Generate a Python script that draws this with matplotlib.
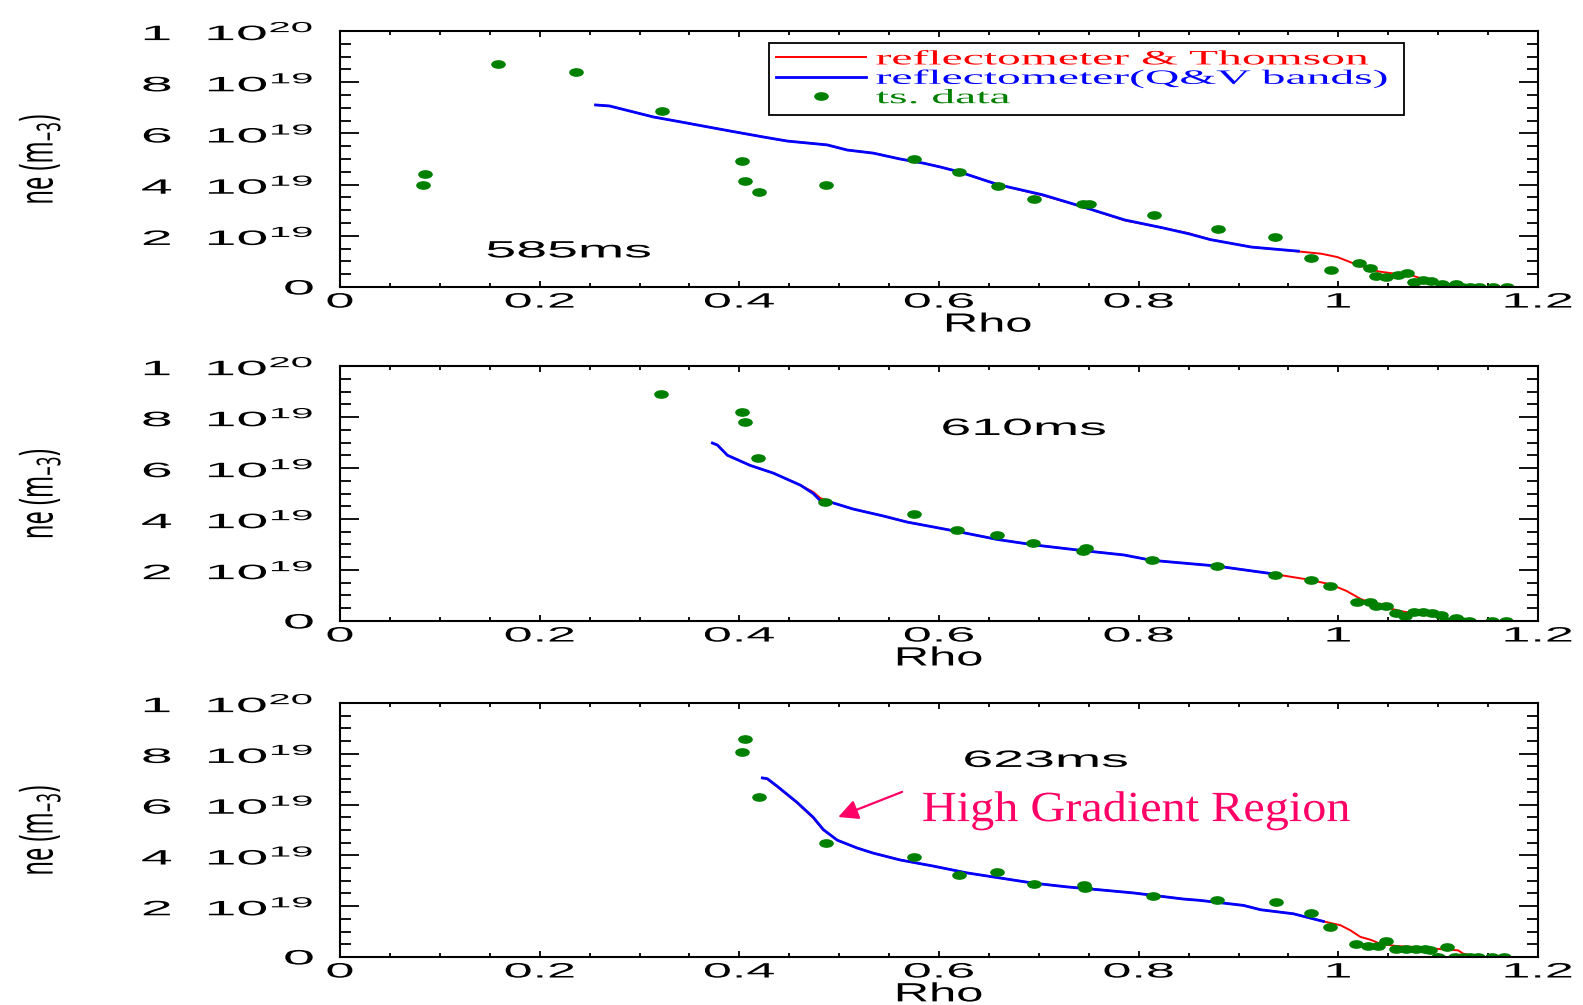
import numpy as np
import matplotlib.pyplot as plt
from matplotlib.path import Path
from matplotlib.patheffects import AbstractPathEffect
from matplotlib.transforms import Affine2D
from matplotlib.ticker import MultipleLocator

# ---------------- data (ne in units of 1e19 m^-3) ----------------
# 585 ms
ts1_rho = [0.083, 0.085, 0.158, 0.236, 0.323, 0.403, 0.406, 0.420, 0.487, 0.575,
           0.620, 0.659, 0.695, 0.744, 0.750, 0.815, 0.879, 0.937, 0.973, 0.993,
           1.021, 1.032, 1.038, 1.048, 1.060, 1.069, 1.076, 1.085, 1.093, 1.104,
           1.110, 1.118, 1.124, 1.132, 1.141, 1.155, 1.169]
ts1_ne = [4.0, 4.4, 8.7, 8.4, 6.88, 4.92, 4.14, 3.71, 3.98, 5.0,
          4.48, 3.93, 3.44, 3.26, 3.26, 2.81, 2.27, 1.97, 1.15, 0.65,
          0.92, 0.74, 0.42, 0.39, 0.48, 0.53, 0.21, 0.29, 0.22, 0.13,
          0.0, 0.13, 0.0, 0.0, 0.0, 0.0, 0.0]
rt1_rho = [0.256, 0.270, 0.314, 0.341, 0.391, 0.424, 0.448, 0.488, 0.508, 0.534,
           0.561, 0.584, 0.601, 0.620, 0.659, 0.704, 0.745, 0.786, 0.823, 0.850,
           0.872, 0.913, 0.960, 0.983, 0.999, 1.016, 1.040, 1.057, 1.073, 1.089,
           1.106, 1.112]
rt1_ne = [7.11, 7.07, 6.64, 6.45, 6.09, 5.86, 5.70, 5.55, 5.35, 5.23,
          5.00, 4.84, 4.69, 4.50, 4.00, 3.58, 3.12, 2.60, 2.32, 2.10,
          1.85, 1.56, 1.39, 1.30, 1.17, 0.91, 0.61, 0.52, 0.46, 0.26,
          0.10, 0.0]
qv1_rho = [0.256, 0.270, 0.314, 0.341, 0.391, 0.424, 0.448, 0.488, 0.508, 0.534,
           0.561, 0.584, 0.601, 0.620, 0.659, 0.704, 0.745, 0.786, 0.823, 0.850,
           0.872, 0.913, 0.960]
qv1_ne = [7.11, 7.07, 6.64, 6.45, 6.09, 5.86, 5.70, 5.55, 5.35, 5.23,
          5.00, 4.84, 4.69, 4.50, 4.00, 3.60, 3.12, 2.62, 2.32, 2.08,
          1.85, 1.56, 1.40]

# 610 ms
ts2_rho = [0.322, 0.403, 0.406, 0.419, 0.486, 0.575, 0.618, 0.658, 0.694, 0.744,
           0.747, 0.813, 0.878, 0.937, 0.973, 0.992, 1.019, 1.032, 1.038, 1.048,
           1.058, 1.067, 1.076, 1.085, 1.094, 1.103, 1.108, 1.118, 1.123, 1.131,
           1.154, 1.168]
ts2_ne = [8.9, 8.2, 7.8, 6.4, 4.67, 4.2, 3.55, 3.37, 3.05, 2.75,
          2.87, 2.4, 2.15, 1.82, 1.62, 1.38, 0.76, 0.76, 0.59, 0.59,
          0.31, 0.2, 0.37, 0.37, 0.3, 0.24, 0.0, 0.13, 0.0, 0.0,
          0.0, 0.0]
rt2_rho = [0.373, 0.378, 0.388, 0.411, 0.434, 0.461, 0.474, 0.481, 0.494, 0.514,
           0.544, 0.568, 0.594, 0.621, 0.658, 0.696, 0.742, 0.785, 0.813, 0.877,
           0.937, 0.969, 0.992, 1.008, 1.023, 1.042, 1.062, 1.077, 1.100, 1.112]
rt2_ne = [6.98, 6.90, 6.50, 6.10, 5.80, 5.33, 5.06, 4.82, 4.63, 4.39,
          4.12, 3.88, 3.69, 3.49, 3.20, 2.98, 2.77, 2.59, 2.38, 2.16,
          1.83, 1.63, 1.44, 1.18, 0.85, 0.59, 0.39, 0.29, 0.20, 0.03]
qv2_rho = [0.373, 0.378, 0.388, 0.411, 0.434, 0.461, 0.474, 0.481, 0.494, 0.514,
           0.544, 0.568, 0.594, 0.621, 0.658, 0.696, 0.742, 0.785, 0.813, 0.877,
           0.940]
qv2_ne = [6.98, 6.90, 6.50, 6.10, 5.80, 5.33, 5.00, 4.72, 4.63, 4.39,
          4.12, 3.88, 3.69, 3.49, 3.20, 2.98, 2.77, 2.59, 2.38, 2.16,
          1.82]

# 623 ms
ts3_rho = [0.406, 0.403, 0.420, 0.487, 0.575, 0.620, 0.658, 0.695, 0.745, 0.746,
           0.814, 0.878, 0.938, 0.973, 0.992, 1.018, 1.030, 1.040, 1.048, 1.058,
           1.068, 1.078, 1.087, 1.092, 1.100, 1.109, 1.117, 1.125, 1.132, 1.140,
           1.154, 1.166]
ts3_ne = [8.58, 8.07, 6.3, 4.49, 3.94, 3.23, 3.35, 2.87, 2.83, 2.72,
          2.4, 2.23, 2.16, 1.73, 1.18, 0.5, 0.43, 0.43, 0.62, 0.33,
          0.33, 0.33, 0.33, 0.26, 0.0, 0.38, 0.0, 0.0, 0.0, 0.0,
          0.0, 0.0]
rt3_rho = [0.423, 0.428, 0.438, 0.458, 0.474, 0.484, 0.498, 0.518, 0.534, 0.561,
           0.594, 0.628, 0.661, 0.694, 0.728, 0.762, 0.795, 0.845, 0.861, 0.905,
           0.922, 0.955, 0.985, 1.002, 1.012, 1.022, 1.032, 1.042, 1.058, 1.078,
           1.095, 1.120, 1.125, 1.130]
rt3_ne = [7.05, 7.00, 6.70, 6.06, 5.47, 5.00, 4.60, 4.29, 4.09, 3.82,
          3.58, 3.31, 3.11, 2.91, 2.76, 2.64, 2.52, 2.28, 2.23, 2.03,
          1.86, 1.70, 1.40, 1.25, 1.05, 0.79, 0.68, 0.52, 0.43, 0.39,
          0.33, 0.26, 0.13, 0.09]
qv3_rho = [0.423, 0.428, 0.438, 0.458, 0.474, 0.484, 0.498, 0.518, 0.534, 0.561,
           0.594, 0.628, 0.661, 0.694, 0.728, 0.762, 0.795, 0.845, 0.861, 0.905,
           0.922, 0.955, 0.985]
qv3_ne = [7.05, 7.02, 6.72, 6.08, 5.50, 5.02, 4.60, 4.29, 4.09, 3.82,
          3.58, 3.31, 3.11, 2.91, 2.76, 2.64, 2.52, 2.28, 2.23, 2.03,
          1.86, 1.70, 1.40]

times = ['585ms', '610ms', '623ms']
xticks = [0, 0.2, 0.4, 0.6, 0.8, 1.0, 1.2]
xticklabels = ['0', '0.2', '0.4', '0.6', '0.8', '1', '1.2']
yticks = [0, 2, 4, 6, 8, 10]
yticklabels = ['0', '2  10$^{\\mathregular{19}}$', '4  10$^{\\mathregular{19}}$',
               '6  10$^{\\mathregular{19}}$', '8  10$^{\\mathregular{19}}$',
               '1  10$^{\\mathregular{20}}$']


class Stretch(AbstractPathEffect):
    # the IDL output is stretched sideways, so widen the text the same way
    def __init__(self, sx, anchor='center'):
        super().__init__()
        self.sx = sx
        self.anchor = anchor

    def draw_path(self, renderer, gc, tpath, affine, rgbFace=None):
        bb = tpath.get_extents(affine)
        x0 = {'left': bb.x0, 'right': bb.x1, 'center': 0.5 * (bb.x0 + bb.x1)}[self.anchor]
        t = affine + Affine2D().translate(-x0, 0).scale(self.sx, 1).translate(x0, 0)
        renderer.draw_path(gc, tpath, t, rgbFace)


ell = Path.unit_circle().transformed(Affine2D().scale(1.0, 0.55))
sans = 'Liberation Sans'

fig = plt.figure(figsize=(15.83, 10.05), dpi=100)
rects = [[0.2148, 0.7144, 0.7568, 0.2548],
         [0.2148, 0.3821, 0.7568, 0.2537],
         [0.2148, 0.0478, 0.7568, 0.2527]]
series = [(ts1_rho, ts1_ne, rt1_rho, rt1_ne, qv1_rho, qv1_ne),
          (ts2_rho, ts2_ne, rt2_rho, rt2_ne, qv2_rho, qv2_ne),
          (ts3_rho, ts3_ne, rt3_rho, rt3_ne, qv3_rho, qv3_ne)]
tpos = [(0.229, 1.39), (0.685, 7.53), (0.707, 7.72)]
rho_x = [0.541, 0.5, 0.5]

for i in range(3):
    ax = fig.add_axes(rects[i])
    tr, tn, rr, rn, qr, qn = series[i]
    ax.plot(rr, rn, color='red', lw=1.4, label='reflectometer & Thomson')
    ax.plot(qr, qn, color='blue', lw=2.0, label='reflectometer(Q&V bands)')
    ax.plot(tr, tn, ls='none', marker=ell, ms=9.5, color='green', label='ts. data')

    ax.set_xlim(0, 1.2)
    ax.set_ylim(0, 10)
    ax.set_xticks(xticks)
    ax.set_xticklabels(xticklabels, fontsize=15, family=sans)
    ax.set_yticks(yticks)
    ax.set_yticklabels(yticklabels, fontsize=15, family=sans)
    ax.xaxis.set_minor_locator(MultipleLocator(0.05))
    ax.yaxis.set_minor_locator(MultipleLocator(0.5))
    ax.tick_params(which='both', direction='in', top=True, right=True, width=1.3)
    ax.tick_params(axis='x', which='major', length=4.5, pad=4)
    ax.tick_params(axis='x', which='minor', length=3)
    ax.tick_params(axis='y', which='major', length=13.5, pad=19)
    ax.tick_params(axis='y', which='minor', length=8)
    for s in ax.spines.values():
        s.set_linewidth(1.5)
    for t in ax.get_xticklabels():
        t.set_path_effects([Stretch(2.5, 'center')])
    for t in ax.get_yticklabels():
        t.set_path_effects([Stretch(2.75, 'right')])

    ax.set_xlabel('Rho', fontsize=19, family=sans)
    ax.xaxis.set_label_coords(rho_x[i], -0.10)
    ax.xaxis.label.set_path_effects([Stretch(1.85, 'center')])
    ax.set_ylabel('ne (m$_{\\mathregular{-3}}$)', fontsize=17, family='Noto Sans')
    ax.yaxis.set_label_coords(-0.240, 0.5)
    ax.yaxis.label.set_path_effects([Stretch(2.0, 'center')])

    t = ax.text(tpos[i][0], tpos[i][1], times[i], fontsize=17, family=sans,
                ha='center', va='center')
    t.set_path_effects([Stretch(2.35, 'center')])

    if i == 0:
        leg = ax.legend(loc='upper left', bbox_to_anchor=(0.358, 0.672, 0.53, 0.281),
                        mode='expand', fancybox=False, framealpha=1, edgecolor='black',
                        prop={'family': 'Liberation Serif', 'size': 14.7},
                        labelcolor='linecolor', handlelength=4.4, handletextpad=0.5,
                        labelspacing=0.0, borderpad=0.35, borderaxespad=0)
        leg.get_frame().set_linewidth(1.3)
        for t in leg.get_texts():
            t.set_path_effects([Stretch(2.33, 'left')])

    if i == 2:
        hg = ax.text(0.583, 5.35, 'High Gradient Region', fontsize=31,
                     family='Liberation Serif', color='#FF0066', ha='left', va='baseline')
        hg.set_path_effects([Stretch(1.12, 'left')])
        ax.annotate('', xy=(0.499, 5.51), xytext=(0.563, 6.5),
                    arrowprops=dict(arrowstyle='-|>,head_length=0.6,head_width=0.3',
                                    mutation_scale=20, color='#FF0066', lw=1.6,
                                    shrinkA=0, shrinkB=0))

plt.savefig('out.png', dpi=100)
